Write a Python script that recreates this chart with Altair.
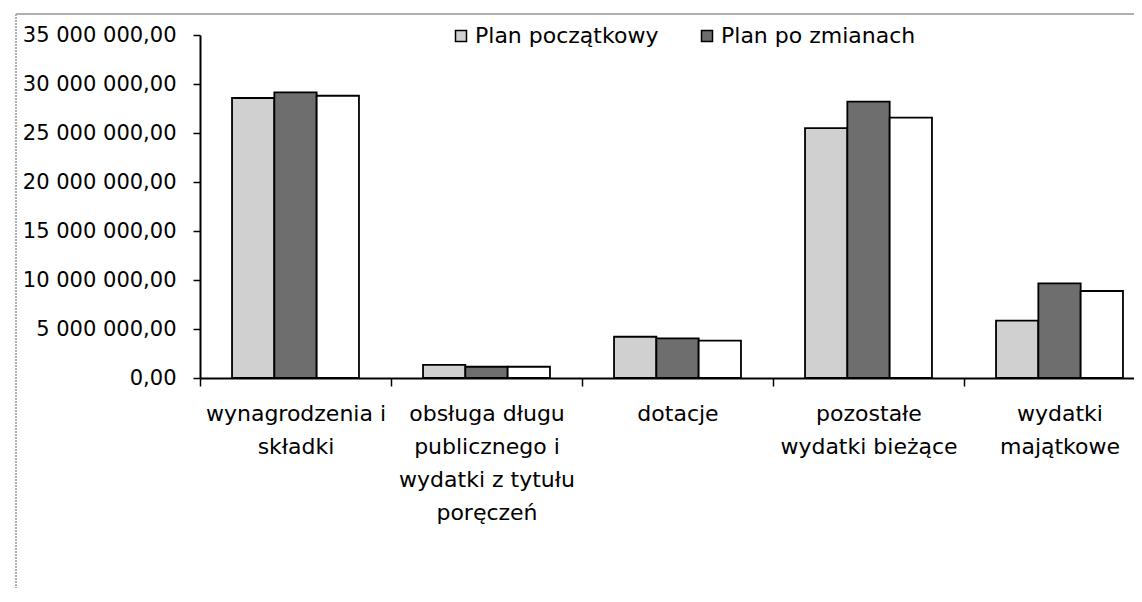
import altair as alt
import pandas as pd

category_lines = [
    ["wynagrodzenia i", "składki"],
    ["obsługa długu", "publicznego i", "wydatki z tytułu", "poręczeń"],
    ["dotacje"],
    ["pozostałe", "wydatki bieżące"],
    ["wydatki", "majątkowe"],
]
categories = ["|".join(c) for c in category_lines]

series = ["Plan początkowy", "Plan po zmianach", "Wykonanie"]
legend_series = ["Plan początkowy", "Plan po zmianach"]
series_colors = ["#d0d0d0", "#6e6e6e", "#ffffff"]

plan_poczatkowy = [28570000, 1330000, 4210000, 25500000, 5850000]
plan_po_zmianach = [29150000, 1150000, 4050000, 28200000, 9660000]
wykonanie = [28800000, 1150000, 3810000, 26560000, 8880000]

y_ticks = [0, 5000000, 10000000, 15000000, 20000000, 25000000, 30000000, 35000000]

rows = []
for name, vals in zip(series, [plan_poczatkowy, plan_po_zmianach, wykonanie]):
    for cat, v in zip(categories, vals):
        rows.append({"kategoria": cat, "seria": name, "wartosc": v})
df = pd.DataFrame(rows)

FONT = "DejaVu Sans"
PLOT_W = 934
FULL_W = 955
PLOT_H = 343

bars = alt.Chart(df).mark_bar(stroke="black", strokeWidth=1.8).encode(
    x=alt.X(
        "kategoria:N",
        sort=categories,
        scale=alt.Scale(paddingInner=0, paddingOuter=0, range=[0, FULL_W]),
        axis=alt.Axis(
            title=None,
            labelAngle=0,
            tickBand="extent",
            labelExpr="split(datum.label, '|')",
            labelLineHeight=33,
            labelBaseline="top",
            labelPadding=17,
            labelFont=FONT,
            labelFontSize=22,
            labelColor="black",
            tickSize=8,
            tickColor="black",
            tickWidth=1.5,
            domainColor="black",
            domainWidth=2,
            labelLimit=300,
        ),
    ),
    xOffset=alt.XOffset(
        "seria:N",
        sort=series,
        scale=alt.Scale(paddingInner=0, paddingOuter=0.757),
    ),
    y=alt.Y(
        "wartosc:Q",
        scale=alt.Scale(domain=[0, 35000000], nice=False),
        axis=alt.Axis(
            title=None,
            values=y_ticks,
            grid=False,
            labelExpr="replace(replace(format(datum.value, ',.2f'), regexp(',', 'g'), ' '), '.', ',')",
            labelFont=FONT,
            labelFontSize=21,
            labelColor="black",
            labelPadding=17,
            tickSize=7,
            tickColor="black",
            tickWidth=1.5,
            domainColor="black",
            domainWidth=2,
        ),
    ),
    fill=alt.Fill(
        "seria:N",
        sort=series,
        scale=alt.Scale(domain=series, range=series_colors),
        legend=alt.Legend(
            title=None,
            values=legend_series,
            orient="none",
            direction="horizontal",
            legendX=250,
            legendY=-10,
            symbolType="square",
            symbolSize=121,
            symbolStrokeColor="black",
            symbolStrokeWidth=1.5,
            labelFont=FONT,
            labelFontSize=22,
            labelColor="black",
            labelOffset=3,
            labelLimit=400,
            columnPadding=37,
        ),
    ),
)

frame_top = alt.Chart(df).mark_rule(color="#b0b0b0", strokeWidth=1).encode(
    x=alt.value(-184), x2=alt.value(FULL_W), y=alt.value(-21)
)
frame_left = alt.Chart(df).mark_rule(color="#b0b0b0", strokeWidth=1, strokeDash=[2, 1]).encode(
    x=alt.value(-184), y=alt.value(-21), y2=alt.value(PLOT_H + 250)
)

chart = alt.layer(frame_top, frame_left, bars).properties(
    width=PLOT_W,
    height=PLOT_H,
    autosize=alt.AutoSizeParams(type="none"),
    padding={"left": 192, "top": 27, "right": 0, "bottom": 210},
    background="white",
).configure_view(stroke=None)

chart.save("out.html", embed_options={"renderer": "svg", "actions": False})
